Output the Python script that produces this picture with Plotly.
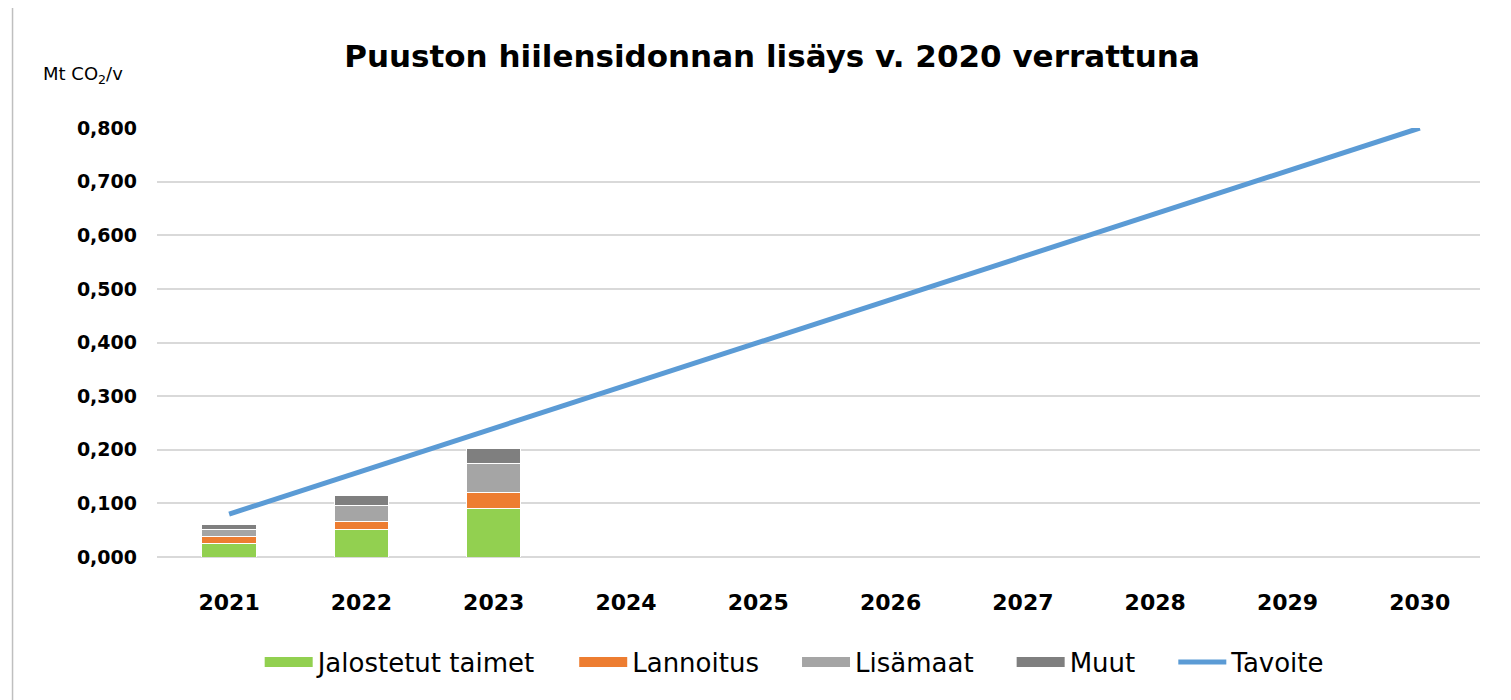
import plotly.graph_objects as go

years = ["2021", "2022", "2023", "2024", "2025", "2026", "2027", "2028", "2029", "2030"]
bar_years = ["2021", "2022", "2023"]
jalostetut = [0.026, 0.052, 0.090]
lannoitus = [0.013, 0.015, 0.031]
lisamaat = [0.013, 0.029, 0.054]
muut = [0.009, 0.019, 0.028]
tavoite = [0.08, 0.16, 0.24, 0.32, 0.40, 0.48, 0.56, 0.64, 0.72, 0.80]
y_ticks = [0, 0.1, 0.2, 0.3, 0.4, 0.5, 0.6, 0.7, 0.8]
y_ticklabels = ["0,000", "0,100", "0,200", "0,300", "0,400", "0,500", "0,600", "0,700", "0,800"]

FONT = "DejaVu Sans"
OFF = 8  # default page body margin
W, H = 1511 - OFF, 700 - OFF
PAD = "\u00a0" * 4
fig = go.Figure()
series = [("Jalostetut taimet", jalostetut, "#92D050"),
          ("Lannoitus", lannoitus, "#ED7D31"),
          ("Lisämaat", lisamaat, "#A5A5A5"),
          ("Muut", muut, "#7F7F7F")]
for name, vals, col in series:
    fig.add_trace(go.Bar(x=bar_years, y=vals, name=name, marker_color=col,
                         marker_line=dict(color="white", width=1), width=0.41,
                         legendgroup=name, showlegend=False))
# legend entries with wide rectangular swatches
for name, vals, col in series:
    fig.add_trace(go.Scatter(x=[None], y=[None], name=name + PAD, mode="lines",
                             line=dict(color=col, width=18), legendgroup=name))
fig.add_trace(go.Scatter(x=years, y=tavoite, name="Tavoite", mode="lines",
                         line=dict(color="#5B9BD5", width=5)))

fig.update_layout(
    width=W, height=H, barmode="stack",
    paper_bgcolor="white", plot_bgcolor="white",
    margin=dict(l=157 - OFF, r=1511 - 1480, t=128 - OFF, b=700 - 557),
    font=dict(family=FONT, color="black"),
    title=dict(text="<b>Puuston hiilensidonnan lisäys v. 2020 verrattuna</b>",
               x=(772 - OFF) / W, xanchor="center", y=1 - (56 - OFF) / H, yanchor="middle",
               yref="container", font=dict(size=31, family=FONT, color="black")),
    legend=dict(orientation="h", x=0.482, xanchor="center", y=-0.245, yanchor="middle",
                font=dict(size=26, family=FONT), traceorder="normal",
                itemwidth=48),
    xaxis=dict(type="category", categoryorder="array", categoryarray=years,
               range=[-0.545, 9.455],
               showgrid=False, showline=False, ticks="",
               tickfont=dict(size=22, family=FONT, color="black"),
               ticklabelstandoff=30, tickprefix="<b>", ticksuffix="</b>"),
    yaxis=dict(range=[0, 0.8], tickvals=y_ticks, ticktext=["<b>" + t + "</b>" for t in y_ticklabels],
               showgrid=True, gridcolor="#D9D9D9", gridwidth=1.5,
               zeroline=True, zerolinecolor="#D9D9D9", zerolinewidth=1.5,
               showline=False, ticks="",
               tickfont=dict(size=19, family=FONT, color="black"),
               ticklabelstandoff=19),
    annotations=[dict(text="Mt CO<sub>2</sub>/v", xref="paper", yref="paper",
                      x=-0.024, y=1.124, xanchor="right", yanchor="middle",
                      showarrow=False, font=dict(size=18, family=FONT, color="black"))],
    shapes=[dict(type="rect", xref="paper", yref="paper", x0=-0.1092, x1=1.06, y0=-0.4, y1=1.282,
                 line=dict(color="#BFBFBF", width=1.5), fillcolor="rgba(0,0,0,0)", layer="below")],
)

fig.write_html("out.html")
